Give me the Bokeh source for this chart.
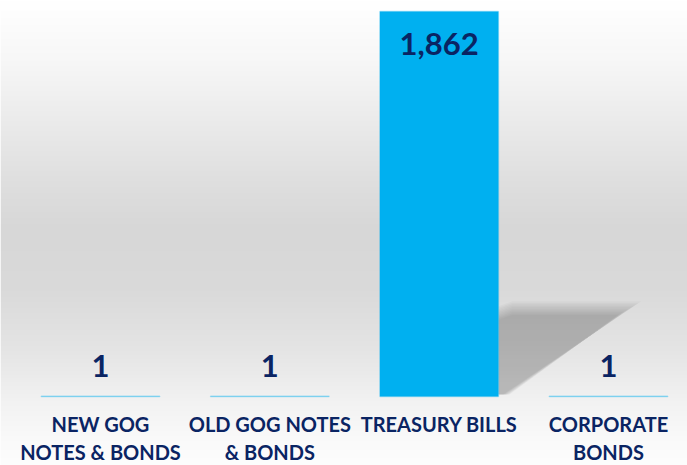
import numpy as np
from bokeh.plotting import figure
from bokeh.models import Range1d, ColumnDataSource
from bokeh.core.properties import value
from bokeh.embed import file_html
from bokeh.resources import INLINE

# ---- data ----
categories = ["NEW GOG\nNOTES & BONDS", "OLD GOG NOTES\n& BONDS", "TREASURY BILLS", "CORPORATE\nBONDS"]
values = [1, 1, 1862, 1]
value_labels = ["1", "1", "1,862", "1"]

# ---- layout constants (pixels) ----
W, H = 687, 465
first_center_px, step_px = 100.0, 169.33
base_px, top_px = 396.0, 11.0
px_per_x = step_px
px_per_y = (base_px - top_px) / max(values)

x_start = -first_center_px / px_per_x
x_end = x_start + W / px_per_x
y_start = -(H - base_px) / px_per_y
y_end = base_px / px_per_y

NAVY = "#0a2463"
BLUE = "#00b0f0"

p = figure(width=W, height=H, output_backend="svg", toolbar_location=None,
           x_range=Range1d(x_start, x_end), y_range=Range1d(y_start, y_end),
           min_border=0, min_border_left=0, min_border_right=0,
           min_border_top=0, min_border_bottom=0)
p.axis.visible = False
p.grid.visible = False
p.outline_line_color = None
p.background_fill_color = "white"
p.border_fill_color = "white"

# ---- background gradient (styling) ----
stops_px = [0, 10, 60, 120, 180, 230, 290, 350, 400, 440, 465]
stops_g = [255, 254, 247, 235, 223, 215, 218, 229, 242, 250, 253]
rows = np.arange(H)
gray = np.interp(rows, stops_px, stops_g).astype(np.uint32)
gray = gray[::-1]  # image row 0 is at the bottom
img = np.zeros((H, 1), dtype=np.uint32)
view = img.view(dtype=np.uint8).reshape((H, 1, 4))
view[:, 0, 0] = gray
view[:, 0, 1] = gray
view[:, 0, 2] = gray
view[:, 0, 3] = 255
p.image_rgba(image=[img], x=x_start, y=y_start, dw=x_end - x_start, dh=y_end - y_start)

# ---- soft shadow behind the tallest bar (derived from the bar) ----
xs = list(range(len(values)))
bw = 0.70
imax = int(np.argmax(values))
vmax = values[imax]
cx = xs[imax]
ux = 1.0 / px_per_x
uy = 1.0 / px_per_y
n_layers = 10
for k in range(n_layers):
    inset = (k - n_layers / 2) * 1.5
    sx = [cx + bw / 2, cx + bw / 2, cx + bw / 2 + 14 * ux,
          cx + 1.12 - inset * 1.7 * ux, cx + 0.40 + inset * 0.5 * ux]
    sy = [2 * uy, vmax * 0.215 - inset * uy, vmax * 0.228 - inset * uy,
          vmax * 0.228 - inset * uy, 2 * uy]
    p.patch(sx, sy, fill_color="black", fill_alpha=0.022, line_color=None)

# ---- bars ----
src = ColumnDataSource(dict(x=xs, top=values, lab=value_labels,
                            yoff=[32 if v > vmax * 0.5 else -30 for v in values]))
p.vbar(x="x", top="top", width=bw, source=src, fill_color=BLUE,
       line_color=BLUE, line_alpha=0.3, line_width=1.5)

p.text(x="x", y="top", text="lab", y_offset="yoff", source=src,
       text_font=value("Lato"), text_font_style="bold", text_font_size="31px",
       text_color=NAVY, text_align="center", text_baseline="alphabetic")

# ---- category labels ----
line1 = [c.split("\n")[0] for c in categories]
line2 = [c.split("\n")[1] if "\n" in c else "" for c in categories]
csrc = ColumnDataSource(dict(x=xs, y=[0] * len(xs), l1=line1, l2=line2))
for col, off in (("l1", 27), ("l2", 55)):
    p.text(x="x", y="y", text=col, y_offset=off, source=csrc,
           text_font=value("Lato"), text_font_style="bold", text_font_size="20px",
           text_color=NAVY, text_align="center", text_baseline="alphabetic")

open("out.html", "w").write(file_html(p, INLINE))
